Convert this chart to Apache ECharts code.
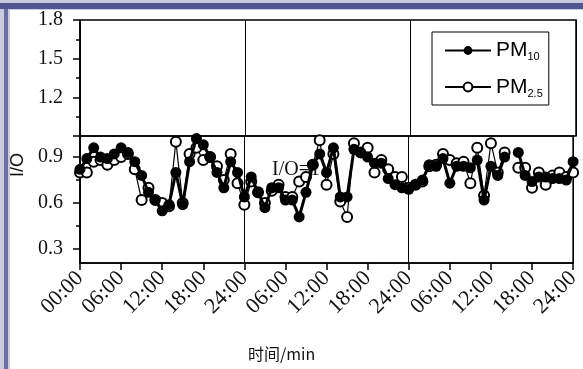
<!DOCTYPE html>
<html>
<head>
    <meta charset="UTF-8">
    <title>I/O</title>
    <script src="https://cdn.jsdelivr.net/npm/echarts@6/dist/echarts.min.js"></script>
    <style type="text/css">
    * {
        margin: 0;
        padding: 0;
    }
    body {
        background-color: #ffffff;
    }
    #main {
        width: 583px;
        height: 369px;
    }
    </style>
</head>
<body>
    <div id="main"></div>
    <script>
        // 小时 (0 ~ 72)
        var hours = [];
        for (var i = 0; i <= 72; i++) { hours.push(i); }

        var pm10 = [0.82, 0.89, 0.96, 0.90, 0.89, 0.92, 0.96, 0.93, 0.87, 0.78,
                    0.67, 0.62, 0.55, 0.59, 0.80, 0.59, 0.87, 1.02, 0.98, 0.90,
                    0.80, 0.70, 0.87, 0.80, 0.64, 0.77, 0.67, 0.57, 0.70, 0.70,
                    0.62, 0.62, 0.51, 0.67, 0.85, 0.92, 0.80, 0.96, 0.64, 0.64,
                    0.95, 0.93, 0.90, 0.86, 0.86, 0.76, 0.72, 0.70, 0.69, 0.72,
                    0.75, 0.85, 0.84, 0.89, 0.73, 0.84, 0.84, 0.83, 0.88, 0.62,
                    0.84, 0.78, 0.90, null, 0.93, 0.78, 0.74, 0.77, 0.77, 0.76,
                    0.76, 0.75, 0.87];

        var pm25 = [0.80, 0.80, 0.87, 0.88, 0.85, 0.88, 0.90, 0.92, 0.82, 0.62,
                    0.70, 0.62, 0.60, 0.58, 1.00, 0.60, 0.92, 0.96, 0.88, 0.90,
                    0.84, 0.75, 0.92, 0.73, 0.59, 0.74, 0.67, 0.60, 0.68, 0.72,
                    0.64, 0.64, 0.74, 0.77, 0.85, 1.01, 0.72, 0.92, 0.61, 0.51,
                    0.99, 0.93, 0.96, 0.80, 0.88, 0.82, 0.77, 0.77, 0.70, 0.72,
                    0.74, 0.84, 0.85, 0.92, 0.88, 0.86, 0.87, 0.73, 0.96, 0.65,
                    0.99, 0.80, 0.93, null, 0.83, 0.83, 0.70, 0.80, 0.72, 0.78,
                    0.80, 0.77, 0.80];

        var lowerTicks = [0.3, 0.6, 0.9];
        var lowerMinor = [0.45, 0.75];

        function pairs(vals) {
            return hours.map(function (h, i) { return [h, vals[i]]; });
        }

        function hourLabel(v) {
            if (v === 0) return '00:00';
            var h = v % 24 === 0 ? 24 : v % 24;
            return (h < 10 ? '0' + h : h) + ':00';
        }

        var serif = 'Liberation Serif';
        var chart = echarts.init(document.getElementById('main'), null, {renderer: 'canvas'});

        var option = {
            backgroundColor: '#ffffff',
            animation: false,
            grid: [
                {left: 80, right: 7, top: 20, height: 116, show: true, borderColor: '#000', borderWidth: 1.5},
                {left: 80, right: 7, top: 136, height: 127, show: true, borderColor: '#000', borderWidth: 1.5}
            ],
            legend: {
                data: ['PM10', 'PM2.5'],
                orient: 'vertical',
                left: 432,
                top: 32,
                itemWidth: 46,
                itemHeight: 11,
                itemGap: 14,
                padding: [8, 6, 6, 12],
                borderColor: '#000',
                borderWidth: 1,
                formatter: function (name) {
                    return '{a|PM}{s|' + name.slice(2) + '}';
                },
                textStyle: {
                    rich: {
                        a: {fontFamily: 'Liberation Sans', fontSize: 21, color: '#000', lineHeight: 24},
                        s: {fontFamily: 'Liberation Sans', fontSize: 11, color: '#000', lineHeight: 12, verticalAlign: 'bottom'}
                    }
                }
            },
            xAxis: [
                {   // 上半部分, 只画日分隔线
                    type: 'value', gridIndex: 0, min: 0, max: 72, interval: 24,
                    axisLine: {show: false}, axisTick: {show: false}, axisLabel: {show: false},
                    splitLine: {show: true, lineStyle: {color: '#000', width: 1}}
                },
                {
                    type: 'value', gridIndex: 1, min: 0, max: 72, interval: 6,
                    axisLine: {lineStyle: {color: '#000', width: 1.5}},
                    axisTick: {inside: false, length: 7, lineStyle: {color: '#000', width: 1.5}},
                    axisLabel: {
                        rotate: 45, margin: 12, color: '#111',
                        fontFamily: serif, fontSize: 22,
                        formatter: hourLabel
                    },
                    splitLine: {show: false}
                },
                {
                    type: 'value', gridIndex: 1, min: 0, max: 72, interval: 24,
                    axisLine: {show: false}, axisTick: {show: false}, axisLabel: {show: false},
                    splitLine: {show: true, lineStyle: {color: '#000', width: 1}}
                }
            ],
            yAxis: [
                {
                    type: 'value', gridIndex: 0, min: 0.9, max: 1.8, interval: 0.3,
                    axisLine: {lineStyle: {color: '#000', width: 1.5}},
                    axisTick: {length: 7, lineStyle: {color: '#000', width: 1.5}},
                    minorTick: {show: true, splitNumber: 2, length: 4, lineStyle: {color: '#000', width: 1.5}},
                    axisLabel: {
                        margin: 17, color: '#111', fontFamily: serif, fontSize: 20,
                        formatter: function (v) { return v < 1 ? '' : v.toFixed(1); }
                    },
                    splitLine: {show: false}
                },
                {
                    type: 'value', gridIndex: 1, min: 0.21, max: 1.037,
                    axisLine: {lineStyle: {color: '#000', width: 1.5}},
                    axisTick: {length: 7, customValues: lowerTicks, lineStyle: {color: '#000', width: 1.5}},
                    axisLabel: {
                        margin: 17, color: '#111', fontFamily: serif, fontSize: 20,
                        customValues: lowerTicks,
                        formatter: function (v) { return v.toFixed(1); }
                    },
                    splitLine: {show: false}
                },
                {   // 次刻度
                    type: 'value', gridIndex: 1, min: 0.21, max: 1.037, position: 'left',
                    axisLine: {show: false},
                    axisTick: {length: 4, customValues: lowerMinor, lineStyle: {color: '#000', width: 1.5}},
                    axisLabel: {show: false},
                    splitLine: {show: false}
                }
            ],
            series: [
                {
                    name: 'PM2.5', type: 'line', xAxisIndex: 1, yAxisIndex: 1,
                    data: pairs(pm25),
                    symbol: 'emptyCircle', symbolSize: 10,
                    lineStyle: {color: '#000', width: 1.2},
                    itemStyle: {color: '#000', borderColor: '#000', borderWidth: 1.2},
                    z: 3
                },
                {
                    name: 'PM10', type: 'line', xAxisIndex: 1, yAxisIndex: 1,
                    data: pairs(pm10),
                    symbol: 'circle', symbolSize: 11,
                    lineStyle: {color: '#000', width: 3},
                    itemStyle: {color: '#000'},
                    z: 10
                }
            ],
            graphic: [
                {type: 'rect', left: 0, top: 0, shape: {width: 583, height: 3}, style: {fill: '#c9c9e0'}},
                {type: 'rect', left: 0, top: 3, shape: {width: 583, height: 6}, style: {fill: '#54578f'}},
                {type: 'rect', left: 0, top: 9, shape: {width: 583, height: 1}, style: {fill: '#c9c9e0'}},
                {type: 'rect', left: 0, top: 9, shape: {width: 4, height: 360}, style: {fill: '#c9c9e0'}},
                {type: 'rect', left: 4, top: 9, shape: {width: 4, height: 360}, style: {fill: '#6a6d9e'}},
                {type: 'rect', left: 8, top: 9, shape: {width: 2, height: 360}, style: {fill: '#c9c9e0'}},
                {
                    type: 'text', left: 9, top: 153, rotation: Math.PI / 2,
                    style: {text: 'I/O', font: '18px "Liberation Sans"', fill: '#111'}
                },
                {
                    type: 'text', left: 248, top: 346,
                    style: {text: '时间/min', font: '16px "Noto Sans CJK SC"', fill: '#111'}
                },
                {
                    type: 'text', left: 272, top: 160, z: 1,
                    style: {text: 'I/O=1', font: '20px "Liberation Serif"', fill: '#111'}
                }
            ]
        };

        chart.setOption(option);
    </script>
</body>
</html>
